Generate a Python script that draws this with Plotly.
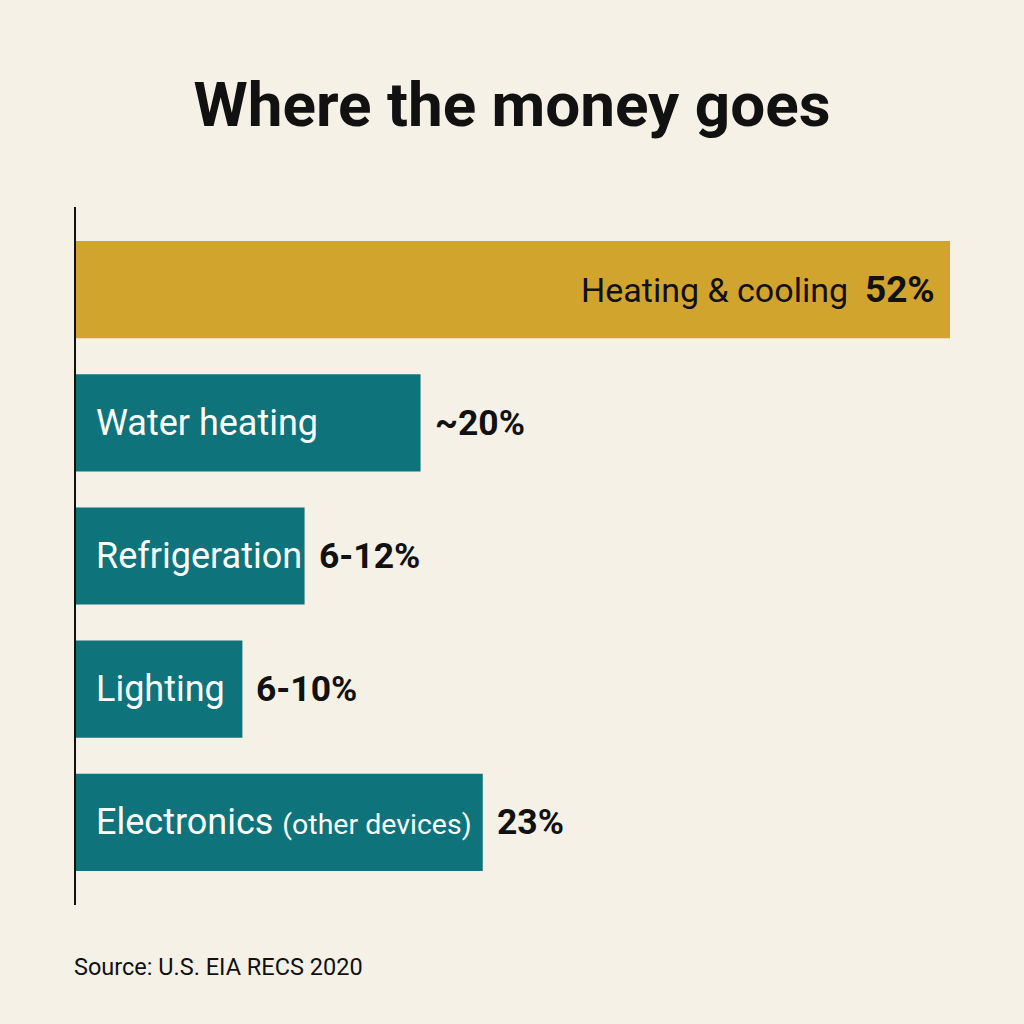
import plotly.graph_objects as go

# data
categories = ["Heating & cooling", "Water heating", "Refrigeration", "Lighting", "Electronics"]
bar_lengths = [52, 20.5, 13.6, 9.9, 24.2]
value_labels = ["52%", "~20%", "6-12%", "6-10%", "23%"]
inner_labels = ["", "Water heating", "Refrigeration", "Lighting",
                "Electronics <span style='font-size:28.5px'>(other devices)</span>"]
bar_colors = ["#D1A42D", "#0E737A", "#0E737A", "#0E737A", "#0E737A"]

bg = "#F5F1E6"
font_family = "Roboto, Liberation Sans, Arial, sans-serif"

fig = go.Figure()
fig.add_trace(
    go.Bar(
        x=bar_lengths,
        y=categories,
        orientation="h",
        marker=dict(color=bar_colors, line=dict(width=0)),
        width=0.73,
        hoverinfo="skip",
        showlegend=False,
    )
)

# labels
for cat, val, vlab, ilab in zip(categories, bar_lengths, value_labels, inner_labels):
    if cat == "Heating & cooling":
        # label sits inside the right end of the big bar
        fig.add_annotation(
            x=val, y=cat, xref="x", yref="y",
            text=f"{cat}&nbsp;&nbsp;<b><span style='font-size:37px'>{vlab}</span></b>",
            showarrow=False, xanchor="right", xshift=-13,
            font=dict(size=34, color="#111111", family=font_family),
        )
        continue
    fig.add_annotation(
        x=0, y=cat, xref="x", yref="y",
        text=ilab, showarrow=False, xanchor="left", xshift=18,
        font=dict(size=36, color="white", family=font_family),
    )
    fig.add_annotation(
        x=val, y=cat, xref="x", yref="y",
        text=f"<b>{vlab}</b>", showarrow=False, xanchor="left", xshift=12,
        font=dict(size=35.5, color="#111111", family=font_family),
    )

fig.add_annotation(
    x=0, y=0, xref="paper", yref="paper", xanchor="left", yanchor="top",
    xshift=-4, yshift=-46,
    text="Source: U.S. EIA RECS 2020", showarrow=False,
    font=dict(size=23.5, color="#111111", family=font_family),
)

fig.update_layout(
    width=1024, height=1024,
    margin=dict(l=76, r=74, t=207, b=119),
    paper_bgcolor=bg, plot_bgcolor=bg,
    bargap=0.27,
    title=dict(
        text="<b>Where the money goes</b>",
        x=0.5, xanchor="center", y=0.898, yanchor="middle",
        font=dict(size=62, color="#111111", family=font_family),
    ),
)
fig.update_xaxes(range=[0, 52], visible=False, fixedrange=True)
fig.update_yaxes(
    range=[4.62, -0.62], showticklabels=False, showgrid=False, zeroline=False,
    showline=True, linecolor="#111111", linewidth=2, ticks="",
)

fig.write_html(
    "out.html",
    config={"displayModeBar": False},
    post_script="document.body.style.margin='0';",
)
